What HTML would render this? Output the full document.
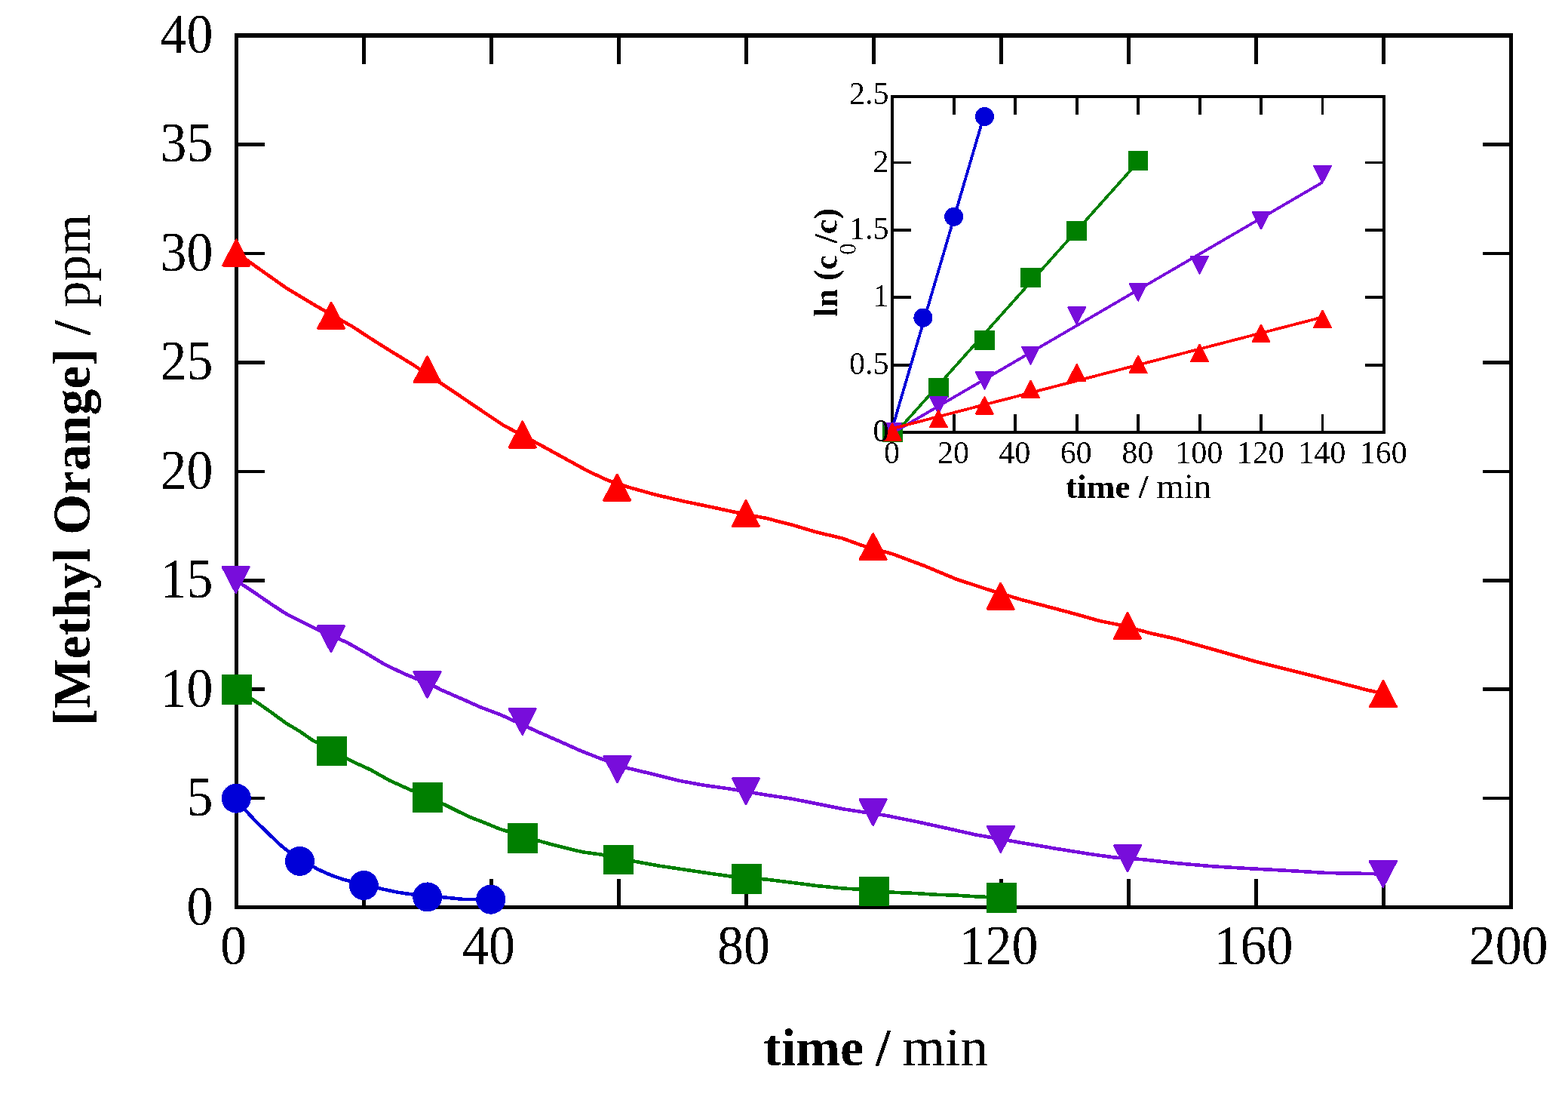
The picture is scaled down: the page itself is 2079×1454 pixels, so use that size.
<!DOCTYPE html>
<html><head><meta charset="utf-8"><title>Methyl Orange degradation</title>
<style>
html,body{margin:0;padding:0;background:#fff;}
body{width:2079px;height:1454px;overflow:hidden;}
svg{display:block;}
text{font-family:"Liberation Serif","Times New Roman",serif;fill:#000;}
.b{font-weight:bold;}
</style></head><body>
<svg width="2079" height="1454" viewBox="0 0 2079 1454" shape-rendering="crispEdges">
<defs><filter id="bw" x="-5%" y="-5%" width="110%" height="110%" color-interpolation-filters="sRGB"><feComponentTransfer><feFuncA type="discrete" tableValues="0 1"/></feComponentTransfer></filter></defs>
<rect x="0" y="0" width="2079" height="1454" fill="#fff"/>
<g fill="#000" shape-rendering="crispEdges">
<rect x="311" y="44" width="1695" height="6"/>
<rect x="311" y="1200" width="1695" height="5"/>
<rect x="311" y="44" width="5" height="1161"/>
<rect x="2001" y="44" width="5" height="1161"/>
<rect x="479.6" y="50" width="5.5" height="35"/>
<rect x="479.6" y="1165" width="5.5" height="35"/>
<rect x="648.7" y="50" width="5.5" height="35"/>
<rect x="648.7" y="1165" width="5.5" height="35"/>
<rect x="817.7" y="50" width="5.5" height="35"/>
<rect x="817.7" y="1165" width="5.5" height="35"/>
<rect x="986.7" y="50" width="5.5" height="35"/>
<rect x="986.7" y="1165" width="5.5" height="35"/>
<rect x="1155.8" y="50" width="5.5" height="35"/>
<rect x="1155.8" y="1165" width="5.5" height="35"/>
<rect x="1324.8" y="50" width="5.5" height="35"/>
<rect x="1324.8" y="1165" width="5.5" height="35"/>
<rect x="1493.8" y="50" width="5.5" height="35"/>
<rect x="1493.8" y="1165" width="5.5" height="35"/>
<rect x="1662.8" y="50" width="5.5" height="35"/>
<rect x="1662.8" y="1165" width="5.5" height="35"/>
<rect x="1831.9" y="50" width="5.5" height="35"/>
<rect x="1831.9" y="1165" width="5.5" height="35"/>
<rect x="316" y="1055.8" width="35" height="4.6"/>
<rect x="1966" y="1055.8" width="35" height="4.6"/>
<rect x="316" y="911.3" width="35" height="4.6"/>
<rect x="1966" y="911.3" width="35" height="4.6"/>
<rect x="316" y="766.9" width="35" height="4.6"/>
<rect x="1966" y="766.9" width="35" height="4.6"/>
<rect x="316" y="622.5" width="35" height="4.6"/>
<rect x="1966" y="622.5" width="35" height="4.6"/>
<rect x="316" y="478.0" width="35" height="4.6"/>
<rect x="1966" y="478.0" width="35" height="4.6"/>
<rect x="316" y="333.6" width="35" height="4.6"/>
<rect x="1966" y="333.6" width="35" height="4.6"/>
<rect x="316" y="189.1" width="35" height="4.6"/>
<rect x="1966" y="189.1" width="35" height="4.6"/>
</g>
<path d="M313.3,1058.2 L325.5,1073.8 L336.5,1085.9 L344.8,1094.1 L358.5,1107.3 L372.3,1120.5 L380.5,1127.1 L420.0,1151.5 L438.8,1160.0 L455.0,1165.6 L507.6,1178.5 L526.3,1182.5 L542.6,1185.0 L595.1,1190.0 L613.9,1191.9 L630.1,1191.9 L650.7,1192.2" fill="none" stroke="#0000d8" stroke-width="4.6" stroke-linejoin="round"/>
<path d="M313.7,913.5 L341.3,931.3 L360.0,944.4 L378.8,958.2 L397.5,969.4 L413.8,980.7 L466.3,1008.8 L491.3,1020.3 L516.4,1034.4 L541.4,1045.7 L588.4,1066.0 L604.0,1073.8 L623.4,1083.1 L642.9,1090.6 L662.4,1098.7 L720.8,1116.4 L746.8,1123.1 L772.8,1129.4 L796.2,1132.5 L840.3,1141.5 L873.9,1147.6 L907.6,1152.6 L941.3,1157.7 L966.5,1161.2 L1017.0,1165.7 L1050.7,1169.9 L1084.4,1174.2 L1118.0,1177.5 L1134.9,1178.5 L1186.6,1182.9 L1214.0,1184.0 L1241.4,1185.8 L1268.8,1186.7 L1296.3,1188.5 L1328.0,1189.5" fill="none" stroke="#007f00" stroke-width="4.6" stroke-linejoin="round"/>
<path d="M312.5,768.8 L322.5,775.6 L341.3,788.1 L360.0,801.0 L378.8,813.2 L397.5,822.8 L416.3,832.3 L460.1,851.5 L485.1,865.7 L510.1,880.7 L535.1,892.6 L575.6,909.5 L586.0,914.9 L612.0,926.1 L637.9,937.7 L663.9,947.4 L715.8,971.2 L741.8,982.5 L767.8,994.2 L793.8,1004.5 L831.8,1018.0 L865.5,1026.0 L899.2,1034.5 L932.8,1040.7 L966.5,1045.4 L1017.0,1053.8 L1050.7,1058.9 L1084.4,1065.6 L1118.0,1072.3 L1145.0,1076.5 L1175.3,1081.0 L1217.3,1089.5 L1259.4,1098.7 L1293.1,1106.3 L1360.4,1118.1 L1402.5,1125.2 L1444.6,1131.9 L1478.3,1136.6 L1515.3,1139.2 L1557.3,1143.9 L1607.8,1148.3 L1658.4,1151.3 L1708.9,1154.0 L1759.4,1157.0 L1809.9,1157.9 L1833.4,1158.5" fill="none" stroke="#780ddb" stroke-width="4.6" stroke-linejoin="round"/>
<path d="M313.0,334.5 L337.5,352.0 L378.8,381.2 L420.0,406.0 L467.5,433.0 L495.0,450.9 L522.5,468.1 L547.3,483.2 L598.2,516.9 L632.6,540.3 L667.0,563.4 L719.8,591.6 L749.6,608.0 L779.5,624.4 L806.3,636.8 L831.7,645.3 L869.0,655.7 L906.2,664.4 L943.5,672.1 L973.3,678.6 L1015.3,686.8 L1048.9,695.3 L1082.6,705.4 L1116.3,713.3 L1141.5,722.5 L1183.6,734.3 L1225.7,750.0 L1267.8,767.6 L1309.9,781.4 L1354.6,795.0 L1389.3,804.1 L1423.9,813.3 L1458.5,823.1 L1481.6,827.7 L1527.8,839.8 L1556.7,846.2 L1606.3,860.1 L1663.5,876.4 L1729.0,892.8 L1810.7,914.0 L1833.7,919.5" fill="none" stroke="#fe0000" stroke-width="4.6" stroke-linejoin="round"/>
<g fill="#0000d8"><circle cx="313.3" cy="1058.2" r="19.5"/><circle cx="397.5" cy="1141.4" r="19.5"/><circle cx="482.3" cy="1173.5" r="19.5"/><circle cx="566.7" cy="1188.9" r="19.5"/><circle cx="650.7" cy="1192.2" r="19.5"/></g>
<g fill="#007f00" shape-rendering="crispEdges"><rect x="293.7" y="894.0" width="40.0" height="39.5"/><rect x="419.8" y="975.6" width="40.0" height="39.5"/><rect x="547.0" y="1037.2" width="40.0" height="39.5"/><rect x="673.3" y="1091.2" width="40.0" height="39.5"/><rect x="799.9" y="1119.5" width="40.0" height="39.5"/><rect x="969.9" y="1145.2" width="40.0" height="39.5"/><rect x="1139.0" y="1161.5" width="40.0" height="39.5"/><rect x="1308.0" y="1170.2" width="40.0" height="39.5"/></g>
<g fill="#780ddb" stroke="#780ddb" stroke-width="3" stroke-linejoin="round"><path d="M295.10,751.50 L330.30,751.50 L312.70,785.30 Z"/><path d="M421.30,829.90 L456.50,829.90 L438.90,863.70 Z"/><path d="M548.90,890.50 L584.10,890.50 L566.50,924.30 Z"/><path d="M675.10,939.50 L710.30,939.50 L692.70,973.30 Z"/><path d="M801.00,1002.70 L836.20,1002.70 L818.60,1036.50 Z"/><path d="M971.50,1031.80 L1006.70,1031.80 L989.10,1065.60 Z"/><path d="M1140.00,1059.60 L1175.20,1059.60 L1157.60,1093.40 Z"/><path d="M1309.20,1095.50 L1344.40,1095.50 L1326.80,1129.30 Z"/><path d="M1477.50,1120.60 L1512.70,1120.60 L1495.10,1154.40 Z"/><path d="M1816.20,1141.60 L1851.40,1141.60 L1833.80,1175.40 Z"/></g>
<g fill="#fe0000" stroke="#fe0000" stroke-width="3" stroke-linejoin="round"><path d="M313.20,318.00 L330.70,352.00 L295.70,352.00 Z"/><path d="M439.20,401.30 L456.70,435.30 L421.70,435.30 Z"/><path d="M566.50,472.70 L584.00,506.70 L549.00,506.70 Z"/><path d="M692.70,559.00 L710.20,593.00 L675.20,593.00 Z"/><path d="M818.20,629.20 L835.70,663.20 L800.70,663.20 Z"/><path d="M988.90,663.60 L1006.40,697.60 L971.40,697.60 Z"/><path d="M1157.70,707.40 L1175.20,741.40 L1140.20,741.40 Z"/><path d="M1326.60,773.10 L1344.10,807.10 L1309.10,807.10 Z"/><path d="M1494.90,812.50 L1512.40,846.50 L1477.40,846.50 Z"/><path d="M1834.00,902.80 L1851.50,936.80 L1816.50,936.80 Z"/></g>
<g fill="#000" shape-rendering="crispEdges">
<rect x="1181" y="126" width="656" height="4"/>
<rect x="1181" y="571" width="656" height="4"/>
<rect x="1181" y="126" width="4" height="449"/>
<rect x="1833" y="126" width="4" height="449"/>
<rect x="1262.8" y="130" width="3.8" height="22"/>
<rect x="1262.8" y="549" width="3.8" height="22"/>
<rect x="1344.2" y="130" width="3.8" height="22"/>
<rect x="1344.2" y="549" width="3.8" height="22"/>
<rect x="1425.7" y="130" width="3.8" height="22"/>
<rect x="1425.7" y="549" width="3.8" height="22"/>
<rect x="1507.2" y="130" width="3.8" height="22"/>
<rect x="1507.2" y="549" width="3.8" height="22"/>
<rect x="1588.7" y="130" width="3.8" height="22"/>
<rect x="1588.7" y="549" width="3.8" height="22"/>
<rect x="1670.1" y="130" width="3.8" height="22"/>
<rect x="1670.1" y="549" width="3.8" height="22"/>
<rect x="1751.6" y="130" width="3.8" height="22"/>
<rect x="1751.6" y="549" width="3.8" height="22"/>
<rect x="1185" y="481.7" width="23" height="3.8"/>
<rect x="1810" y="481.7" width="23" height="3.8"/>
<rect x="1185" y="392.3" width="23" height="3.8"/>
<rect x="1810" y="392.3" width="23" height="3.8"/>
<rect x="1185" y="302.9" width="23" height="3.8"/>
<rect x="1810" y="302.9" width="23" height="3.8"/>
<rect x="1185" y="213.5" width="23" height="3.8"/>
<rect x="1810" y="213.5" width="23" height="3.8"/>
</g>
<line x1="1183.2" y1="567.3" x2="1305.4" y2="150.7" stroke="#0000d8" stroke-width="3.8"/><g fill="#0000d8"><circle cx="1183.2" cy="573.0" r="12.5"/><circle cx="1223.9" cy="421.2" r="12.5"/><circle cx="1264.7" cy="287.3" r="12.5"/><circle cx="1305.4" cy="154.5" r="12.5"/></g>
<line x1="1183.2" y1="578.7" x2="1509.1" y2="214.5" stroke="#007f00" stroke-width="3.8"/><g fill="#007f00"><rect x="1170.0" y="560.0" width="26.5" height="26.0"/><rect x="1231.1" y="500.7" width="26.5" height="26.0"/><rect x="1292.2" y="437.8" width="26.5" height="26.0"/><rect x="1353.3" y="355.3" width="26.5" height="26.0"/><rect x="1414.4" y="292.9" width="26.5" height="26.0"/><rect x="1495.8" y="200.3" width="26.5" height="26.0"/></g>
<line x1="1183.2" y1="574.0" x2="1753.5" y2="241.7" stroke="#780ddb" stroke-width="3.8"/><g fill="#780ddb" stroke="#780ddb" stroke-width="2" stroke-linejoin="round"><path d="M1171.70,561.25 L1194.70,561.25 L1183.20,583.75 Z"/><path d="M1232.80,525.75 L1255.80,525.75 L1244.30,548.25 Z"/><path d="M1293.90,493.25 L1316.90,493.25 L1305.40,515.75 Z"/><path d="M1355.01,460.25 L1378.01,460.25 L1366.51,482.75 Z"/><path d="M1416.11,407.25 L1439.11,407.25 L1427.61,429.75 Z"/><path d="M1497.58,376.15 L1520.58,376.15 L1509.08,398.65 Z"/><path d="M1579.05,340.05 L1602.05,340.05 L1590.55,362.55 Z"/><path d="M1660.52,281.05 L1683.52,281.05 L1672.02,303.55 Z"/><path d="M1741.99,219.75 L1764.99,219.75 L1753.49,242.25 Z"/></g>
<line x1="1183.2" y1="568.0" x2="1753.5" y2="420.4" stroke="#fe0000" stroke-width="3.8"/><g fill="#fe0000" stroke="#fe0000" stroke-width="2" stroke-linejoin="round"><path d="M1183.20,561.25 L1194.70,583.75 L1171.70,583.75 Z"/><path d="M1244.30,543.75 L1255.80,566.25 L1232.80,566.25 Z"/><path d="M1305.40,526.05 L1316.90,548.55 L1293.90,548.55 Z"/><path d="M1366.51,504.75 L1378.01,527.25 L1355.01,527.25 Z"/><path d="M1427.61,482.75 L1439.11,505.25 L1416.11,505.25 Z"/><path d="M1509.08,471.65 L1520.58,494.15 L1497.58,494.15 Z"/><path d="M1590.55,456.65 L1602.05,479.15 L1579.05,479.15 Z"/><path d="M1672.02,430.45 L1683.52,452.95 L1660.52,452.95 Z"/><path d="M1753.49,411.55 L1764.99,434.05 L1741.99,434.05 Z"/></g>
<g filter="url(#bw)"><g font-size="72" text-anchor="end">
<text transform="translate(282.3,1225.5) scale(0.97,1.04)">0</text>
<text transform="translate(282.3,1081.1) scale(0.97,1.04)">5</text>
<text transform="translate(282.3,936.6) scale(0.97,1.04)">10</text>
<text transform="translate(282.3,792.2) scale(0.97,1.04)">15</text>
<text transform="translate(282.3,647.8) scale(0.97,1.04)">20</text>
<text transform="translate(282.3,503.3) scale(0.97,1.04)">25</text>
<text transform="translate(282.3,358.9) scale(0.97,1.04)">30</text>
<text transform="translate(282.3,214.4) scale(0.97,1.04)">35</text>
<text transform="translate(282.3,70.0) scale(0.97,1.04)">40</text>
</g>
<g font-size="72" text-anchor="middle">
<text transform="translate(309.8,1277.5) scale(0.97,1.04)">0</text>
<text transform="translate(647.9,1277.5) scale(0.97,1.04)">40</text>
<text transform="translate(985.9,1277.5) scale(0.97,1.04)">80</text>
<text transform="translate(1324.0,1277.5) scale(0.97,1.04)">120</text>
<text transform="translate(1662.0,1277.5) scale(0.97,1.04)">160</text>
<text transform="translate(2000.1,1277.5) scale(0.97,1.04)">200</text>
</g>
<text x="1012.2" y="1412" font-size="70.5" class="b">time</text>
<text x="1161" y="1412" font-size="70.5" class="b">/</text>
<text transform="translate(1196.5,1412) scale(1.035,1.03)" font-size="70.5">min</text>
<text transform="translate(118.7,962.3) rotate(-90)" font-size="69.6"><tspan class="b">[Methyl Orange] /</tspan> ppm</text>
<g font-size="42" text-anchor="end">
<text x="1178.5" y="585.2">0</text>
<text x="1178.5" y="495.8">0.5</text>
<text x="1178.5" y="406.4">1</text>
<text x="1178.5" y="317.0">1.5</text>
<text x="1178.5" y="227.6">2</text>
<text x="1178.5" y="138.2">2.5</text>
</g>
<g font-size="42" text-anchor="middle">
<text x="1182.4" y="614">0</text>
<text x="1263.9" y="614">20</text>
<text x="1345.3" y="614">40</text>
<text x="1426.8" y="614">60</text>
<text x="1508.3" y="614">80</text>
<text x="1589.8" y="614">100</text>
<text x="1671.2" y="614">120</text>
<text x="1752.7" y="614">140</text>
<text x="1834.2" y="614">160</text>
</g>
<text x="1413" y="660" font-size="45.3" class="b">time /</text>
<text transform="translate(1533.6,660) scale(1.03,1.03)" font-size="45.3">min</text>
<text transform="translate(1109.6,419.7) rotate(-90)" font-size="44" class="b">ln (c<tspan font-size="31" font-weight="normal" dy="25">0</tspan><tspan dy="-25">/c)</tspan></text></g>
</svg></body></html>
